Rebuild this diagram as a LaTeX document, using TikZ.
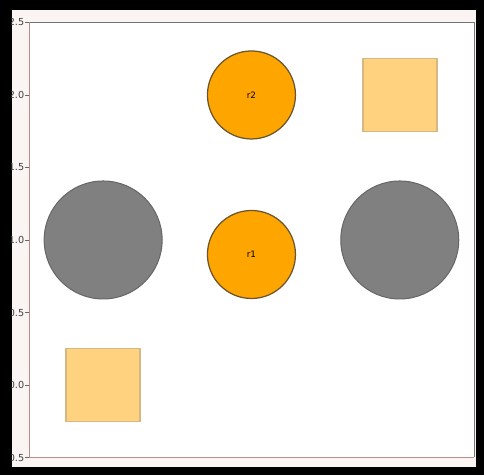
\documentclass[tikz,border=0pt]{standalone}
\usepackage{tikz}
\usepackage{fontspec}
\setmainfont{DejaVu Sans}

\definecolor{paper}{HTML}{FAF4F2}
\definecolor{spine}{HTML}{B88C88}
\definecolor{ringedge}{HTML}{6A5530}
\definecolor{robotfill}{HTML}{FFA500}
\definecolor{boxfill}{HTML}{FFD27F}
\definecolor{boxedge}{HTML}{D6B682}

\tikzset{
  robot/.style={circle, fill=robotfill, draw=ringedge, line width=0.25mm, inner sep=0pt, minimum size=1.76cm, font=\fontsize{5}{6}\selectfont},
  obstacle/.style={circle, fill=gray, draw=black!60, line width=0.2mm, inner sep=0pt, minimum size=2.36cm},
  goalbox/.style={rectangle, fill=boxfill, draw=boxedge, line width=0.3mm, inner sep=0pt, minimum width=1.48cm, minimum height=1.46cm},
  ticklabel/.style={anchor=east, inner sep=0pt, text=black!75, font=\fontsize{5.5}{6.5}\selectfont}
}

\begin{document}
\begin{tikzpicture}[x=2.966cm, y=2.9cm]
\useasboundingbox (-0.6955,-0.621) rectangle (2.568,2.655);
% frame of the screenshot
\fill[black] (-0.6955,-0.621) rectangle (2.568,2.655);
\fill[paper] (-0.6146,-0.5655) rectangle (2.514,2.586);
\fill[white] (-0.5,-0.5) rectangle (2.5,2.5);
\draw[line width=0.1mm, color=black!55] (-0.5,2.5) -- (2.5,2.5) -- (2.5,-0.5);
\draw[line width=0.1mm, color=spine] (-0.5,2.5) -- (-0.5,-0.5) -- (2.5,-0.5);

% y ticks
\begin{scope}
\clip (-0.6146,-0.5655) rectangle (2.514,2.586);
\foreach \v/\t in {-0.5/-0.5, 0/0.0, 0.5/0.5, 1/1.0, 1.5/1.5, 2/2.0, 2.5/2.5} {
  \draw[line width=0.1mm, color=black!60] (-0.525,\v) -- (-0.5,\v);
  \node[ticklabel] (tick\t) at (-0.530,\v) {\t};
}
\end{scope}

% obstacles
\node[obstacle] (obsleft) at (0,1) {};
\node[obstacle] (obsright) at (2,1) {};

% goal regions
\node[goalbox] (goalA) at (0,0) {};
\node[goalbox] (goalB) at (2,2) {};

% robots
\node[robot] (r1) at (1,0.9) {r1};
\node[robot] (r2) at (1,2) {r2};
\end{tikzpicture}
\end{document}
